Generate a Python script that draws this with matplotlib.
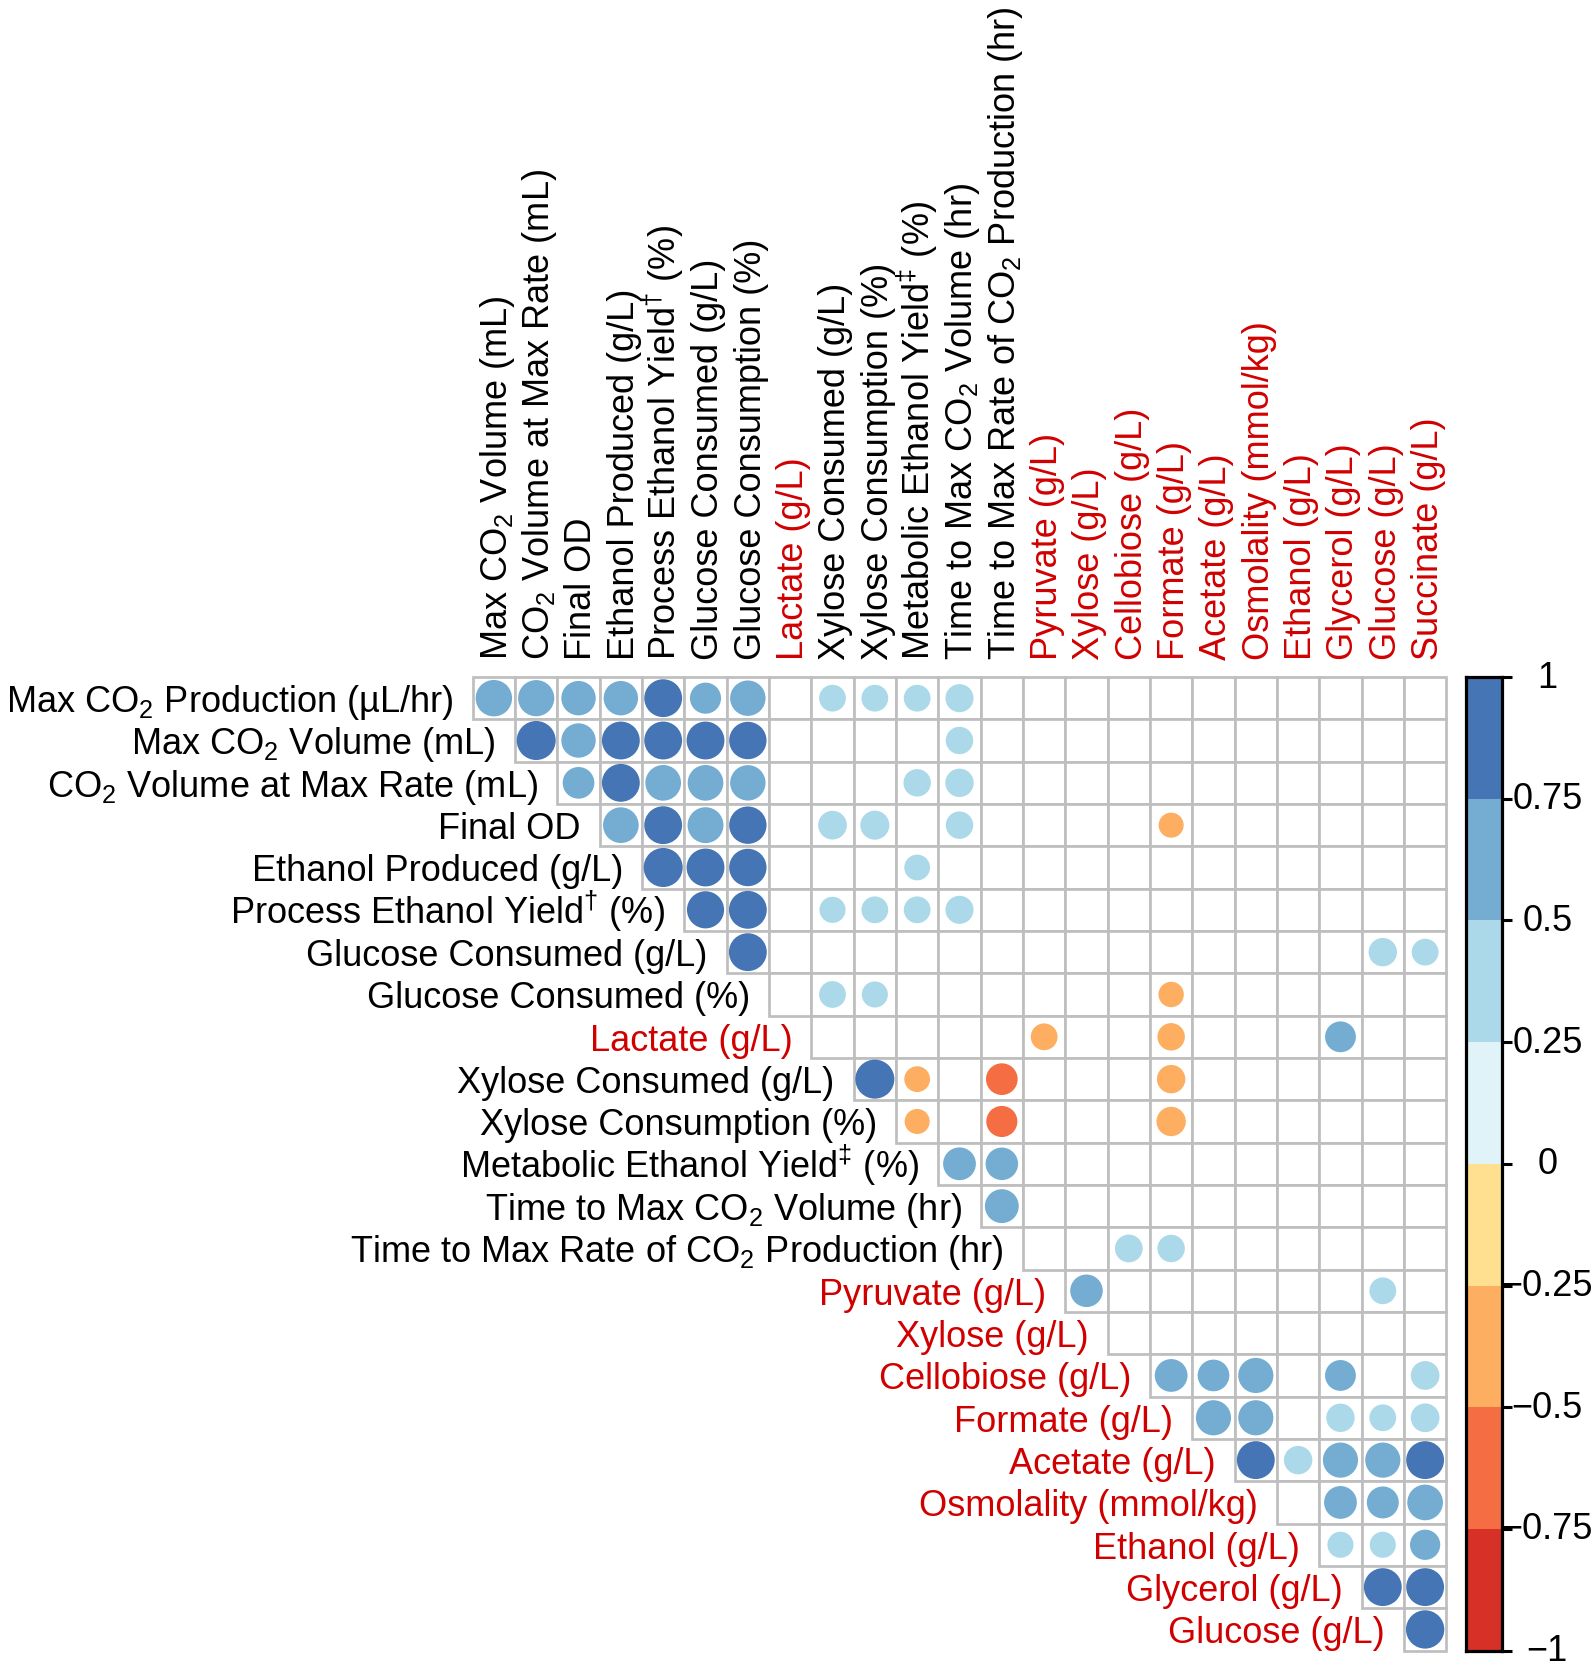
import numpy as np
import matplotlib
matplotlib.use("Agg")
import matplotlib.pyplot as plt
from matplotlib.patches import Rectangle, Circle
from matplotlib.colors import ListedColormap, BoundaryNorm
from matplotlib.transforms import blended_transform_factory

plt.rcParams['font.family'] = ['Liberation Sans', 'DejaVu Sans']
plt.rcParams['mathtext.fontset'] = 'custom'
plt.rcParams['mathtext.rm'] = 'Liberation Sans'
plt.rcParams['mathtext.it'] = 'Liberation Sans:italic'
plt.rcParams['mathtext.bf'] = 'Liberation Sans:bold'

# ── labels ───────────────────────────────────────
row_labels = [
    r"Max CO$\mathregular{_2}$ Production (µL/hr)",
    r"Max CO$\mathregular{_2}$ Volume (mL)",
    r"CO$\mathregular{_2}$ Volume at Max Rate (mL)",
    "Final OD",
    "Ethanol Produced (g/L)",
    r"Process Ethanol Yield$\mathregular{^†}$ (%)",
    "Glucose Consumed (g/L)",
    "Glucose Consumed (%)",
    "Lactate (g/L)",
    "Xylose Consumed (g/L)",
    "Xylose Consumption (%)",
    r"Metabolic Ethanol Yield$\mathregular{^‡}$ (%)",
    r"Time to Max CO$\mathregular{_2}$ Volume (hr)",
    r"Time to Max Rate of CO$\mathregular{_2}$ Production (hr)",
    "Pyruvate (g/L)",
    "Xylose (g/L)",
    "Cellobiose (g/L)",
    "Formate (g/L)",
    "Acetate (g/L)",
    "Osmolality (mmol/kg)",
    "Ethanol (g/L)",
    "Glycerol (g/L)",
    "Glucose (g/L)",
]
row_red = [8] + list(range(14, 23))

col_labels = [
    r"Max CO$\mathregular{_2}$ Volume (mL)",
    r"CO$\mathregular{_2}$ Volume at Max Rate (mL)",
    "Final OD",
    "Ethanol Produced (g/L)",
    r"Process Ethanol Yield$\mathregular{^†}$ (%)",
    "Glucose Consumed (g/L)",
    "Glucose Consumption (%)",
    "Lactate (g/L)",
    "Xylose Consumed (g/L)",
    "Xylose Consumption (%)",
    r"Metabolic Ethanol Yield$\mathregular{^‡}$ (%)",
    r"Time to Max CO$\mathregular{_2}$ Volume (hr)",
    r"Time to Max Rate of CO$\mathregular{_2}$ Production (hr)",
    "Pyruvate (g/L)",
    "Xylose (g/L)",
    "Cellobiose (g/L)",
    "Formate (g/L)",
    "Acetate (g/L)",
    "Osmolality (mmol/kg)",
    "Ethanol (g/L)",
    "Glycerol (g/L)",
    "Glucose (g/L)",
    "Succinate (g/L)",
]
col_red = [7] + list(range(13, 23))

# ── significant correlations (row, col, r) ───────
cell_row = [0, 0, 0, 0, 0, 0, 0, 0, 0, 0, 0,
            1, 1, 1, 1, 1, 1, 1,
            2, 2, 2, 2, 2, 2, 2,
            3, 3, 3, 3, 3, 3, 3, 3,
            4, 4, 4, 4,
            5, 5, 5, 5, 5, 5,
            6, 6, 6,
            7, 7, 7,
            8, 8, 8,
            9, 9, 9, 9,
            10, 10, 10,
            11, 11,
            12,
            13, 13,
            14, 14,
            16, 16, 16, 16, 16,
            17, 17, 17, 17, 17,
            18, 18, 18, 18, 18,
            19, 19, 19,
            20, 20, 20,
            21, 21,
            22]
cell_col = [0, 1, 2, 3, 4, 5, 6, 8, 9, 10, 11,
            1, 2, 3, 4, 5, 6, 11,
            2, 3, 4, 5, 6, 10, 11,
            3, 4, 5, 6, 8, 9, 11, 16,
            4, 5, 6, 10,
            5, 6, 8, 9, 10, 11,
            6, 21, 22,
            8, 9, 16,
            13, 16, 20,
            9, 10, 12, 16,
            10, 12, 16,
            11, 12,
            12,
            15, 16,
            14, 21,
            16, 17, 18, 20, 22,
            17, 18, 20, 21, 22,
            18, 19, 20, 21, 22,
            20, 21, 22,
            20, 21, 22,
            21, 22,
            22]
cell_r = [0.74, 0.73, 0.66, 0.66, 0.80, 0.54, 0.70, 0.40, 0.40, 0.40, 0.44,
          0.85, 0.66, 0.80, 0.80, 0.80, 0.78, 0.42,
          0.56, 0.80, 0.71, 0.71, 0.70, 0.42, 0.45,
          0.71, 0.80, 0.72, 0.78, 0.46, 0.47, 0.42, -0.35,
          0.85, 0.80, 0.78, 0.37,
          0.77, 0.80, 0.38, 0.40, 0.40, 0.44,
          0.80, 0.45, 0.40,
          0.40, 0.38, -0.36,
          -0.40, -0.42, 0.53,
          0.85, -0.37, -0.56, -0.45,
          -0.35, -0.54, -0.48,
          0.60, 0.59,
          0.64,
          0.43, 0.42,
          0.59, 0.40,
          0.60, 0.56, 0.69, 0.53, 0.46,
          0.69, 0.69, 0.45, 0.40, 0.46,
          0.80, 0.45, 0.69, 0.69, 0.80,
          0.60, 0.57, 0.71,
          0.38, 0.38, 0.51,
          0.80, 0.80,
          0.82]

palette = ["#D73027", "#F46D43", "#FDAE61", "#FEE090",
           "#E0F3F8", "#ABD9E9", "#74ADD1", "#4575B4"]
bounds = np.linspace(-1, 1, 9)
cbar_ticks = [1, 0.75, 0.5, 0.25, 0, -0.25, -0.5, -0.75, -1]
cbar_ticklabels = ["1", "0.75", "0.5", "0.25", "0",
                   "\u22120.25", "\u22120.5", "\u22120.75", "\u22121"]

cmap = ListedColormap(palette)
norm = BoundaryNorm(bounds, cmap.N)

RED = "#D10000"
GRID = "#BEBEBE"
FS = 26

W, H = 1594, 1674
fig = plt.figure(figsize=(W / 100, H / 100), dpi=100)

n = len(row_labels)
cell = 42.33
gx0, gy1 = 472.7, 1651.6
ax = fig.add_axes([gx0 / W, (H - gy1) / H, n * cell / W, n * cell / H])
ax.set_xlim(0, n)
ax.set_ylim(n, 0)
ax.axis('off')

# grid cells (upper triangle incl. diagonal)
for i in range(n):
    for j in range(i, n):
        ax.add_patch(Rectangle((j, i), 1, 1, facecolor='white',
                               edgecolor=GRID, lw=1.95, zorder=1,
                               clip_on=False))

# circles, diameter ~ sqrt(|r|)
for i, j, r in zip(cell_row, cell_col, cell_r):
    ax.add_patch(Circle((j + 0.5, i + 0.5), 0.5 * np.sqrt(abs(r)),
                        facecolor=cmap(norm(r)), edgecolor='none',
                        zorder=3, clip_on=False))

cap_off = 0.305   # half cap height in cell units
for i, lab in enumerate(row_labels):
    ax.text(i - 0.45, i + 0.5 + cap_off, lab, ha='right', va='baseline',
            fontsize=FS, color=RED if i in row_red else 'black',
            clip_on=False)

for j, lab in enumerate(col_labels):
    ax.text(j + 0.5 + cap_off, -0.42, lab, ha='left', va='baseline',
            rotation=90, rotation_mode='anchor', fontsize=FS,
            color=RED if j in col_red else 'black', clip_on=False)

# colour legend
cax = fig.add_axes([1466 / W, (H - gy1) / H, 36 / W, n * cell / H])
for k in range(len(palette)):
    cax.bar(0.5, bounds[k + 1] - bounds[k], bottom=bounds[k], width=1,
            color=palette[k], edgecolor='none')
cax.set_xlim(0, 1)
cax.set_ylim(-1, 1)
for s in cax.spines.values():
    s.set_linewidth(2.3)
    s.set_color('black')
cax.set_xticks([])
cax.set_yticks(cbar_ticks)
cax.tick_params(axis='y', left=False, right=True, labelleft=False,
                labelright=False, length=7, width=2.2, color='black')
tr = blended_transform_factory(cax.transAxes, cax.transData)
for v, lab in zip(cbar_ticks, cbar_ticklabels):
    cax.text(2.26, v, lab, transform=tr, ha='center', va='center',
             fontsize=26, clip_on=False)

fig.savefig("out.png", dpi=100)
